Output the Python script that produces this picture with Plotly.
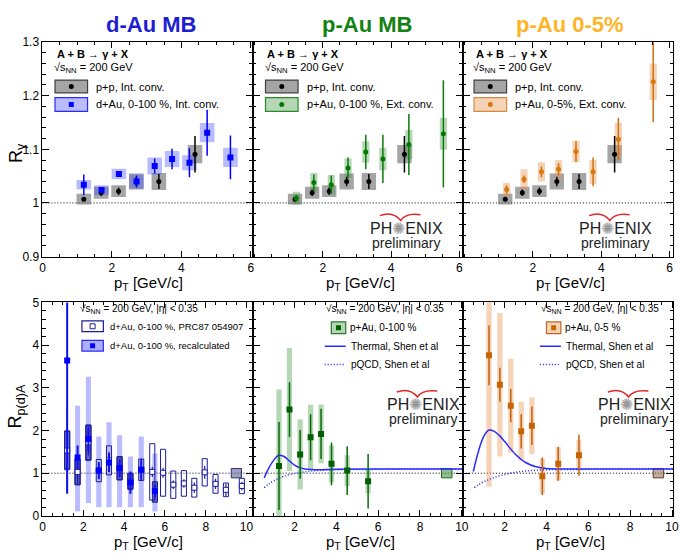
import plotly.graph_objects as go

W, H = 683, 557
FONT = "Liberation Sans, Arial, sans-serif"

# ---------------- R_gamma (top row) ----------------
# p+p reference, internal conversions
pp_pt = [1.19, 1.69, 2.19, 2.70, 3.35, 4.39]
pp_val = [1.007, 1.019, 1.022, 1.040, 1.040, 1.091]
pp_err = [0.004, 0.006, 0.007, 0.009, 0.014, 0.034]
pp_sys = [0.010, 0.011, 0.011, 0.015, 0.016, 0.017]

# d+Au 0-100 %, internal conversions
dau_pt = [1.19, 1.70, 2.20, 2.71, 3.23, 3.73, 4.23, 4.74, 5.41]
dau_val = [1.034, 1.024, 1.054, 1.040, 1.069, 1.082, 1.075, 1.131, 1.085]
dau_err = [0.019, 0.005, 0.005, 0.011, 0.014, 0.019, 0.027, 0.043, 0.041]
dau_sys = [0.009, 0.009, 0.010, 0.013, 0.016, 0.015, 0.014, 0.018, 0.018]

# p+Au 0-100 %, external conversions
pau_pt = [1.23, 1.74, 2.25, 2.74, 3.26, 3.76, 4.52, 5.53]
pau_val = [1.009, 1.038, 1.034, 1.065, 1.095, 1.082, 1.109, 1.129]
pau_err = [0.006, 0.015, 0.017, 0.020, 0.032, 0.045, 0.057, 0.100]
pau_sys = [0.012, 0.018, 0.018, 0.018, 0.020, 0.021, 0.027, 0.030]

# p+Au 0-5 %, external conversions
pau05_pt = [1.23, 1.74, 2.25, 2.75, 3.26, 3.76, 4.50, 5.52]
pau05_val = [1.025, 1.044, 1.058, 1.063, 1.096, 1.058, 1.119, 1.226]
pau05_err = [0.008, 0.007, 0.010, 0.011, 0.019, 0.027, 0.040, 0.075]
pau05_sys = [0.012, 0.019, 0.018, 0.017, 0.020, 0.022, 0.030, 0.034]

# ---------------- R_p(d)A (bottom row) ----------------
# d+Au 0-100 %, PRC87 054907
prc_pt = [1.21, 1.72, 2.25, 2.76, 3.26, 3.78, 4.31, 4.84, 5.38, 5.91, 6.41,
          6.93, 7.44, 7.95, 8.48, 8.99, 9.77]
prc_val = [1.53, 1.03, 1.72, 1.06, 1.30, 1.12, 0.80, 1.08, 1.03, 1.01, 0.73,
           0.76, 0.66, 1.02, 0.75, 0.61, 0.70]
prc_err = [0.99, 0.30, 0.30, 0.15, 0.20, 0.20, 0.16, 0.20, 0.12, 0.12, 0.10,
           0.10, 0.12, 0.15, 0.12, 0.15, 0.10]
prc_sys = [0.45, 0.30, 0.41, 0.26, 0.34, 0.27, 0.18, 0.25, 0.66, 0.55, 0.32,
           0.30, 0.22, 0.32, 0.22, 0.16, 0.18]

# d+Au 0-100 %, recalculated
rec_pt = [1.21, 1.72, 2.25, 2.76, 3.26, 3.78, 4.31, 4.84, 5.51]
rec_val = [3.64, 1.37, 1.80, 1.06, 1.25, 1.12, 0.78, 1.08, 0.58]
rec_err = [3.12, 0.28, 0.30, 0.20, 0.22, 0.22, 0.26, 0.25, 0.15]
rec_tot_lo = [None, 0.11, 0.30, 0.20, 0.20, 0.20, 0.20, 0.20, 0.10]
rec_tot_hi = [None, 2.58, 3.26, 1.86, 2.19, 1.89, 1.39, 1.86, 1.46]
rec_sys_lo = [1.10, 0.73, 1.30, None, None, 0.84, 0.64, None, 0.32]
rec_sys_hi = [1.99, 1.32, 2.12, None, None, 1.38, 1.00, None, 0.80]

# p+Au 0-100 %
paub_pt = [1.26, 1.76, 2.27, 2.77, 3.27, 3.77, 4.52, 5.52]
paub_val = [1.17, 2.49, 1.44, 1.84, 1.92, 1.22, 1.06, 0.81]
paub_err = [1.03, 0.64, 0.57, 0.54, 0.59, 0.50, 0.57, 0.64]
paub_sys = [1.79, 1.44, 0.82, 0.76, 0.69, 0.43, 0.36, 0.28]

# p+Au 0-5 %
pau05b_pt = [1.25, 1.77, 2.29, 2.79, 3.30, 3.80, 4.56, 5.55]
pau05b_val = [3.76, 3.07, 2.58, 1.98, 2.11, 0.93, 1.22, 1.42]
pau05b_err = [0.70, 0.40, 0.39, 0.40, 0.45, 0.44, 0.40, 0.48]
pau05b_sys = [3.08, 1.68, 1.10, 0.69, 0.66, 0.41, 0.39, 0.35]

# global normalisation uncertainty boxes (d+Au MB, p+Au MB, p+Au 0-5%)
norm_pt = [9.50, 9.28, 9.35]
norm_lo = [0.89, 0.89, 0.89]
norm_hi = [1.11, 1.11, 1.11]

# Shen et al. model curves
thermal_mb_pt = [0.55, 0.75, 1.0, 1.25, 1.5, 1.75, 2.0, 2.25, 2.5, 3.0, 4.0, 6.0, 8.0, 10.2]
thermal_mb_val = [0.89, 1.10, 1.30, 1.42, 1.39, 1.29, 1.19, 1.13, 1.10, 1.08, 1.09, 1.10, 1.10, 1.10]
pqcd_mb_pt = [0.55, 0.75, 1.0, 1.5, 2.0, 2.5, 3.0, 4.0, 6.0, 8.0, 10.2]
pqcd_mb_val = [0.66, 0.74, 0.82, 0.93, 0.99, 1.03, 1.06, 1.08, 1.09, 1.10, 1.10]
thermal_c_pt = [0.50, 0.75, 1.0, 1.25, 1.5, 1.75, 2.0, 2.5, 3.0, 3.5, 4.0, 5.0, 6.0, 8.0, 10.2]
thermal_c_val = [1.04, 1.52, 1.86, 2.01, 1.98, 1.88, 1.74, 1.45, 1.25, 1.15, 1.11, 1.10, 1.10, 1.10, 1.10]
pqcd_c_pt = [0.55, 0.75, 1.0, 1.25, 1.5, 2.0, 2.5, 3.0, 4.0, 6.0, 8.0, 10.2]
pqcd_c_val = [0.66, 0.73, 0.80, 0.85, 0.90, 0.97, 1.02, 1.05, 1.08, 1.09, 1.10, 1.10]

# ---------------------------------------------------------------------
fig = go.Figure()


def sfx(i):
    return "" if i == 1 else str(i)


def boxes(i, x, lo, hi, width, fill, edge=None):
    keep = [k for k in range(len(x)) if lo[k] is not None]
    fig.add_trace(go.Bar(
        x=[x[k] for k in keep], base=[lo[k] for k in keep],
        y=[hi[k] - lo[k] for k in keep], width=width,
        marker=dict(color=fill, line=dict(color=edge or fill, width=1 if edge else 0)),
        xaxis="x" + sfx(i), yaxis="y" + sfx(i), showlegend=False, hoverinfo="skip"))


def sym_boxes(i, x, v, s, width, fill, edge=None):
    boxes(i, x, [a - b for a, b in zip(v, s)], [a + b for a, b in zip(v, s)], width, fill, edge)


def points(i, x, y, err, color, symbol, size, ecolor=None, thick=1.5, mline=None):
    fig.add_trace(go.Scatter(
        x=x, y=y, mode="markers",
        marker=dict(color=color, symbol=symbol, size=size, line=mline or dict(width=0)),
        error_y=dict(type="data", array=err, width=0, thickness=thick, color=ecolor or color),
        xaxis="x" + sfx(i), yaxis="y" + sfx(i), showlegend=False, hoverinfo="skip"))


def curve(i, x, y, dash):
    fig.add_trace(go.Scatter(
        x=x, y=y, mode="lines", line=dict(color="#2a2aff", width=1.5, dash=dash, shape="spline"),
        xaxis="x" + sfx(i), yaxis="y" + sfx(i), showlegend=False, hoverinfo="skip"))


GRAY_F, GRAY_E = "rgba(105,105,105,0.6)", "#404040"
BLUE_F = "rgba(70,80,255,0.38)"
GREEN_F = "rgba(60,150,60,0.38)"
ORANGE_F = "rgba(232,150,80,0.42)"
DOTS = "1px,2px"

# top-left: d+Au MB
sym_boxes(1, pp_pt, pp_val, pp_sys, 0.42, GRAY_F)
sym_boxes(1, dau_pt, dau_val, dau_sys, 0.42, BLUE_F)
points(1, pp_pt, pp_val, pp_err, "black", "circle", 5)
points(1, dau_pt, dau_val, dau_err, "#0000ff", "square", 6)

# top-middle: p+Au MB
sym_boxes(2, pp_pt, pp_val, pp_sys, 0.42, GRAY_F)
sym_boxes(2, pau_pt, pau_val, pau_sys, 0.21, GREEN_F)
points(2, pp_pt, pp_val, pp_err, "black", "circle", 5)
points(2, pau_pt, pau_val, pau_err, "#007a00", "circle", 5, "#0b7a0b")

# top-right: p+Au 0-5%
sym_boxes(3, pp_pt, pp_val, pp_sys, 0.42, GRAY_F)
sym_boxes(3, pau05_pt, pau05_val, pau05_sys, 0.21, ORANGE_F)
points(3, pp_pt, pp_val, pp_err, "black", "circle", 5)
points(3, pau05_pt, pau05_val, pau05_err, "#d8780e", "circle", 5, "#d07010")

# bottom-left: d+Au
boxes(4, rec_pt, rec_tot_lo, rec_tot_hi, 0.25, "rgba(90,95,255,0.42)")
boxes(4, rec_pt, rec_sys_lo, rec_sys_hi, 0.25, "rgba(35,35,170,0.62)", "#1c1c8c")
sym_boxes(4, prc_pt, prc_val, prc_sys, 0.25, "rgba(0,0,0,0)", "#1c1c9c")
boxes(4, [norm_pt[0]], [norm_lo[0]], [norm_hi[0]], 0.5, "rgba(95,95,150,0.6)", "#303070")
points(4, prc_pt, prc_val, prc_err, "white", "square", 5, "#1c1c9c", 1.2,
       dict(color="#1c1c9c", width=1))
points(4, rec_pt, rec_val, rec_err, "#0000ff", "square", 6, "#1010f0", 2)

# bottom-middle: p+Au MB
sym_boxes(5, paub_pt, paub_val, paub_sys, 0.25, GREEN_F)
boxes(5, [norm_pt[1]], [norm_lo[1]], [norm_hi[1]], 0.5, "rgba(70,150,70,0.6)", "#1a6a1a")
curve(5, pqcd_mb_pt, pqcd_mb_val, DOTS)
curve(5, thermal_mb_pt, thermal_mb_val, "solid")
points(5, paub_pt, paub_val, paub_err, "#005f00", "square", 6, "#0a6a0a")

# bottom-right: p+Au 0-5%
sym_boxes(6, pau05b_pt, pau05b_val, pau05b_sys, 0.25, ORANGE_F)
boxes(6, [norm_pt[2]], [norm_lo[2]], [norm_hi[2]], 0.5, "rgba(160,125,95,0.65)", "#5a3e28")
curve(6, pqcd_c_pt, pqcd_c_val, DOTS)
curve(6, thermal_c_pt, thermal_c_val, "solid")
points(6, pau05b_pt, pau05b_val, pau05b_err, "#c86400", "square", 6, "#c06010")

# ---------------------------------------------------------------------
xdom = [(40, 253), (253, 466), (466, 679)]
ydom = [(36, 256), (303, 522)]
xr_top = [[0, 6.05], [-0.05, 6.1], [-0.05, 6.1]]
xr_bot = [[0, 10.3], [0, 10.05], [0, 10.05]]

layout = dict(width=W, height=H, margin=dict(l=0, r=0, t=0, b=0),
              paper_bgcolor="white", plot_bgcolor="white", barmode="overlay",
              showlegend=False, font=dict(family=FONT, size=12, color="black"))
common = dict(showline=True, linecolor="black", linewidth=1, mirror="allticks",
              ticks="inside", tickcolor="black", showgrid=False, zeroline=False,
              tickfont=dict(family=FONT, size=12, color="black"))
shapes = []
for i in range(1, 7):
    row = 0 if i <= 3 else 1
    col = (i - 1) % 3
    if row == 0:
        xt = [0, 2, 4, 6] if col == 0 else [2, 4, 6]
        xr = xr_top[col]
        yv = [0.9, 1.0, 1.1, 1.2, 1.3]
        ytt = ["0.9", "1", "1.1", "1.2", "1.3"]
        yr = [0.9, 1.3]
        ymin = 0.02
    else:
        xt = [0, 2, 4, 6, 8, 10] if col == 0 else [2, 4, 6, 8, 10]
        xr = xr_bot[col]
        yv = [0, 1, 2, 3, 4, 5]
        ytt = [str(v) for v in yv]
        yr = [0, 5]
        ymin = 0.2
    layout["xaxis" + sfx(i)] = dict(
        common, domain=[xdom[col][0] / W, xdom[col][1] / W], range=xr,
        anchor="y" + sfx(i), tickmode="array", tickvals=xt, ticklen=6,
        minor=dict(tick0=0, dtick=0.5, ticklen=3, ticks="inside", tickcolor="black"))
    layout["yaxis" + sfx(i)] = dict(
        common, domain=[1 - ydom[row][1] / H, 1 - ydom[row][0] / H], range=yr,
        anchor="x" + sfx(i), tickmode="array", tickvals=yv, ticktext=ytt, ticklen=7,
        showticklabels=(col == 0),
        minor=dict(tick0=0, dtick=ymin, ticklen=3.5, ticks="inside", tickcolor="black"))
    shapes.append(dict(type="line", xref="x" + sfx(i) + " domain", x0=0, x1=1,
                       yref="y" + sfx(i), y0=1, y1=1, layer="below",
                       line=dict(color="black", width=1, dash=DOTS)))

# ---------------------------------------------------------------------
annotations = []


def px(x):
    return x / W


def py(y):
    return 1 - y / H


def text(x, y, s, size=11, anchor="left", color="black", bold=False, angle=0):
    if bold:
        s = "<b>" + s + "</b>"
    annotations.append(dict(x=px(x), y=py(y), xref="paper", yref="paper", text=s,
                            showarrow=False, xanchor=anchor, yanchor="middle", textangle=angle,
                            font=dict(family=FONT, size=size, color=color)))


def key_box(x0, x1, y0, y1, fill, edge):
    shapes.append(dict(type="rect", xref="paper", yref="paper", x0=px(x0), x1=px(x1),
                       y0=py(y1), y1=py(y0), fillcolor=fill, line=dict(color=edge, width=1.2)))


def key_mark(x, y, kind, color, size):
    shapes.append(dict(type=kind, xref="paper", yref="paper", xsizemode="pixel",
                       ysizemode="pixel", xanchor=px(x), yanchor=py(y),
                       x0=-size / 2, x1=size / 2, y0=-size / 2, y1=size / 2,
                       fillcolor=color, line=dict(width=0)))


def key_line(x0, x1, y, dash):
    shapes.append(dict(type="line", xref="paper", yref="paper", x0=px(x0), x1=px(x1),
                       y0=py(y), y1=py(y), line=dict(color="#2a2aff", width=1.5, dash=dash)))


def logo(cx, cy):
    # two-line "PHENIX preliminary" badge with the red swoosh above it;
    # the small base size keeps the two lines close together
    text(cx, cy + 7,
         "<span style='font-size:16px'>PH<span style='color:#9a9a9a'>✺</span>ENIX</span><br>"
         "<span style='font-size:14px'>preliminary</span>", 10.5, "center", "#222222")
    p = [(cx - 27, cy - 13), (cx - 14, cy - 18), (cx - 6, cy - 8),
         (cx - 1, cy - 16), (cx + 14, cy - 14)]
    path = "M {} {} Q {} {} {} {} Q {} {} {} {}".format(
        *[v for q in p for v in (px(q[0]), py(q[1]))])
    shapes.append(dict(type="path", xref="paper", yref="paper", path=path,
                       line=dict(color="#e02626", width=1.5)))


# panel titles
text(150, 18, "d-Au MB", 22, "center", "#1e1ed2", True)
text(369, 18, "p-Au MB", 22, "center", "#138213", True)
text(575, 18, "p-Au 0-5%", 22, "center", "#ffb428", True)

# axis titles
text(14, 150, "R<sub>γ</sub>", 18, "center", angle=-90)
text(14, 410, "R<sub>p(d)A</sub>", 18, "center", angle=-90)
for cx in (147, 362, 575):
    text(cx, 284, "p<sub>T</sub> [GeV/c]", 15, "center")
    text(cx, 549, "p<sub>T</sub> [GeV/c]", 15, "center")

# top-row legends
top_keys = [
    (52.7, "d+Au, 0-100 %, Int. conv.", BLUE_F, "#2a2aff", "rect", "#0000ff"),
    (266.0, "p+Au, 0-100 %, Ext. conv.", GREEN_F, "#2a8a2a", "circle", "#007a00"),
    (477.3, "p+Au, 0-5%, Ext. conv.", ORANGE_F, "#d88a40", "circle", "#d8780e"),
]
for x0, label, fill, edge, kind, mcol in top_keys:
    text(x0, 48, "A + B → γ + X", 11, bold=True)
    text(x0 - 3, 63, "√s<sub>NN</sub> = 200 GeV", 11)
    key_box(x0, x0 + 33, 75, 88, GRAY_F, GRAY_E)
    key_mark(x0 + 16.5, 81.5, "circle", "black", 5)
    text(x0 + 40, 82, "p+p, Int. conv.", 11)
    key_box(x0, x0 + 33, 93, 107, fill, edge)
    key_mark(x0 + 16.5, 100, kind, mcol, 5)
    text(x0 + 40, 100, label, 11)

# bottom-left legend
text(76, 310, "√s<sub>NN</sub> = 200 GeV, |η| < 0.35", 10)
key_box(80, 101.7, 322, 333, "rgba(0,0,0,0)", "#1c1c9c")
shapes.append(dict(type="rect", xref="paper", yref="paper", xsizemode="pixel",
                   ysizemode="pixel", xanchor=px(90.8), yanchor=py(327.5),
                   x0=-2.5, x1=2.5, y0=-2.5, y1=2.5, fillcolor="white",
                   line=dict(color="#1c1c9c", width=1)))
text(106, 327.5, "d+Au, 0-100 %, PRC87 054907", 9.5)
key_box(80, 101.7, 342, 353, "rgba(90,95,255,0.5)", "#2a2aff")
key_mark(90.8, 347.5, "rect", "#0000ff", 5)
text(106, 347.5, "d+Au, 0-100 %, recalculated", 9.5)

# bottom-middle / bottom-right legends
for x0, label, fill, edge, mcol in [(325, "p+Au, 0-100 %", GREEN_F, "#2a7a2a", "#005f00"),
                                    (543, "p+Au, 0-5 %", ORANGE_F, "#b8682a", "#c86400")]:
    text(x0, 310, "√s<sub>NN</sub> = 200 GeV, |η| < 0.35", 10)
    key_box(x0 + 7.7, x0 + 22.3, 323, 335, fill, edge)
    key_mark(x0 + 15, 329, "rect", mcol, 5)
    text(x0 + 24.5, 329, label, 10)
    key_line(x0 + 1, x0 + 22.3, 348, "solid")
    text(x0 + 25.7, 348, "Thermal, Shen et al", 10)
    key_line(x0 + 1, x0 + 22.3, 366.7, DOTS)
    text(x0 + 25.7, 366.7, "pQCD, Shen et al", 10)

# PHENIX preliminary logos
logo(409, 227)
logo(621, 227)
logo(426, 408)
logo(640, 408)

layout["shapes"] = shapes
layout["annotations"] = annotations
fig.update_layout(**layout)
fig.write_html("out.html")
